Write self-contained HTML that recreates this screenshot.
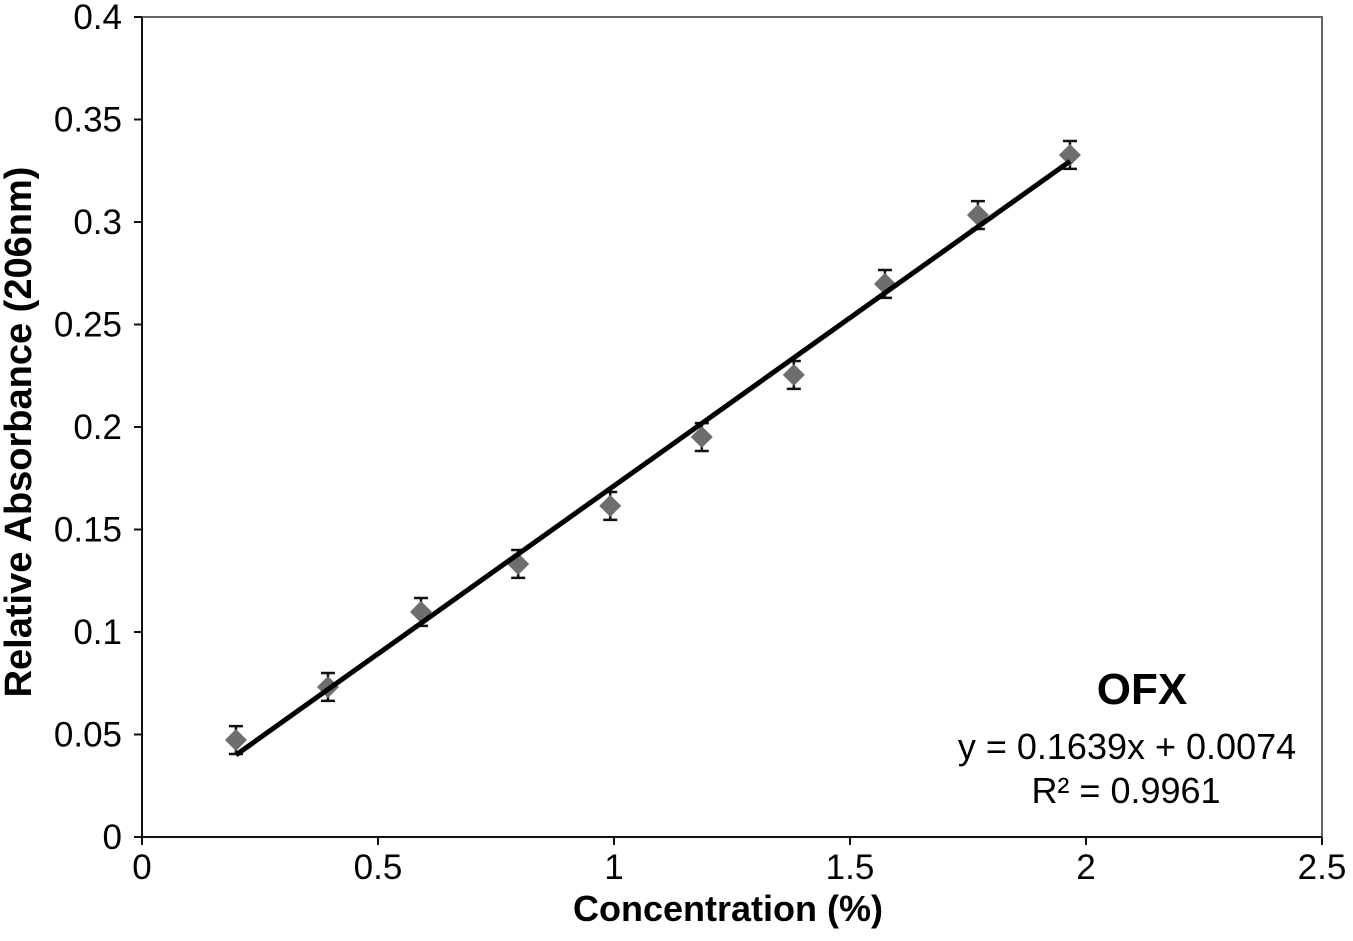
<!DOCTYPE html>
<html><head><meta charset="utf-8"><style>
body{margin:0;background:#fff;}
svg text{font-family:"Liberation Sans",Arial,sans-serif;}
</style></head><body>
<svg width="1353" height="936">
<g id="g"></g>
</svg>
<script>
const xVals=[0.199,0.394,0.591,0.797,0.992,1.186,1.381,1.574,1.771,1.966];
const yVals=[0.0473,0.0732,0.1098,0.1332,0.1615,0.1951,0.2254,0.2698,0.3034,0.3327];
const errVals=[0.0068,0.0068,0.0068,0.0068,0.0068,0.0068,0.0068,0.0068,0.0068,0.0068];
const xTicks=[0,0.5,1,1.5,2,2.5];
const xTickLabels=["0","0.5","1","1.5","2","2.5"];
const yTicks=[0,0.05,0.1,0.15,0.2,0.25,0.3,0.35,0.4];
const yTickLabels=["0","0.05","0.1","0.15","0.2","0.25","0.3","0.35","0.4"];
const slope=0.1639, intercept=0.0074;
const L=142,R=1322,T=17,B=837;
const X=v=>L+(v/2.5)*(R-L), Y=v=>B-(v/0.4)*(B-T);
const g=document.getElementById('g');const NS='http://www.w3.org/2000/svg';
function mk(t,a,txt){const e=document.createElementNS(NS,t);for(const k in a)e.setAttribute(k,a[k]);if(txt!==undefined)e.textContent=txt;g.appendChild(e);return e;}
let e;
e=mk('rect',{x:L,y:T,width:R-L,height:B-T,fill:'#fff',stroke:'#666','stroke-width':2});

e=mk('line',{x1:L,y1:T,x2:L,y2:B,stroke:'#111','stroke-width':2});

e=mk('line',{x1:L,y1:B,x2:R,y2:B,stroke:'#111','stroke-width':2});

yTicks.forEach((v,i)=>{mk('line',{x1:L-8,y1:Y(v),x2:L,y2:Y(v),stroke:'#111','stroke-width':2});
e=mk('text',{x:L-20,y:Y(v)+12,'text-anchor':'end','font-size':35},yTickLabels[i]);
});
xTicks.forEach((v,i)=>{mk('line',{x1:X(v),y1:B,x2:X(v),y2:B+8,stroke:'#111','stroke-width':2});
e=mk('text',{x:X(v),y:B+42,'text-anchor':'middle','font-size':35},xTickLabels[i]);
});
xVals.forEach((x,i)=>{const cx=X(x),y1=Y(yVals[i]+errVals[i]),y2=Y(yVals[i]-errVals[i]);
e=mk('path',{d:`M${cx},${y1}V${y2}M${cx-7},${y1}H${cx+7}M${cx-7},${y2}H${cx+7}`,stroke:'#111','stroke-width':2.5,fill:'none'});

const cy=Y(yVals[i]);
e=mk('path',{d:`M${cx},${cy-11}L${cx+11},${cy}L${cx},${cy+11}L${cx-11},${cy}Z`,fill:'#6e6e6e'});
});
const x0=xVals[0],x1=xVals[xVals.length-1];
e=mk('line',{x1:X(x0),y1:Y(slope*x0+intercept),x2:X(x1),y2:Y(slope*x1+intercept),stroke:'#000','stroke-width':5});

e=mk('text',{x:1142,y:704,'text-anchor':'middle','font-size':44,'font-weight':'bold'},'OFX');

e=mk('text',{x:1127,y:759,'text-anchor':'middle','font-size':36},'y = 0.1639x + 0.0074');

e=mk('text',{x:1126,y:803,'text-anchor':'middle','font-size':36},'R² = 0.9961');

e=mk('text',{x:728,y:921,'text-anchor':'middle','font-size':36,'font-weight':'bold'},'Concentration (%)');

e=mk('text',{x:0,y:0,'text-anchor':'middle','font-size':38,'font-weight':'bold',transform:'translate(31,432) rotate(-90)'},'Relative Absorbance (206nm)');

</script>
</body></html>
